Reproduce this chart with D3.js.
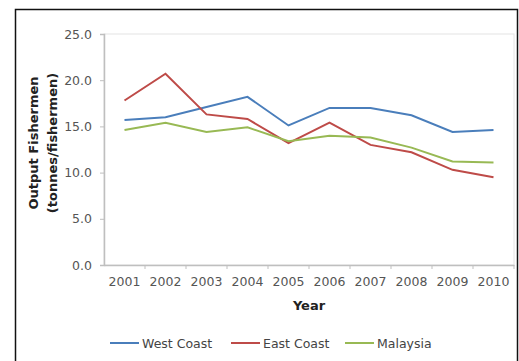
<!DOCTYPE html>
<html>
<head>
<meta charset="utf-8">
<script src="https://cdn.jsdelivr.net/npm/d3@7"></script>
<style>
  body { margin: 0; background: #fff; }
  svg { display: block; }
  text { font-family: Tahoma, "DejaVu Sans", Verdana, sans-serif; }
</style>
</head>
<body>
<script>
// chart values
var years = ["2001", "2002", "2003", "2004", "2005", "2006", "2007", "2008", "2009", "2010"];
var westCoast = [15.7, 16.0, 17.1, 18.2, 15.1, 17.0, 17.0, 16.2, 14.4, 14.6];
var eastCoast = [17.8, 20.7, 16.3, 15.8, 13.2, 15.4, 13.0, 12.2, 10.3, 9.5];
var malaysia = [14.6, 15.4, 14.4, 14.9, 13.4, 14.0, 13.8, 12.7, 11.2, 11.1];
var yTicks = [0, 5, 10, 15, 20, 25];
var seriesNames = ["West Coast", "East Coast", "Malaysia"];
var seriesColors = ["#4a7ebb", "#be4b48", "#98b954"];

var W = 519, H = 361;
var plot = { left: 104, right: 514, top: 34, bottom: 265 };

var svg = d3.select("body").append("svg").attr("width", W).attr("height", H);

// outer frame (bottom edge is cut off in the picture)
svg.append("path")
    .attr("d", "M15.5," + H + "V9.5H517.5V" + H)
    .attr("fill", "none")
    .attr("stroke", "#111")
    .attr("stroke-width", 1.5);

var x = d3.scaleBand().domain(years).range([plot.left, plot.right]);
var y = d3.scaleLinear().domain([0, 25]).range([plot.bottom, plot.top]);

// plot area border
svg.append("rect")
    .attr("x", plot.left).attr("y", plot.top)
    .attr("width", plot.right - plot.left).attr("height", plot.bottom - plot.top)
    .attr("fill", "none").attr("stroke", "#e4e4e4");

// y axis
var yAxis = svg.append("g")
    .attr("transform", "translate(" + plot.left + ",0)")
    .call(d3.axisLeft(y).tickValues(yTicks).tickFormat(d3.format(".1f")).tickSize(4).tickPadding(8));
yAxis.select(".domain").attr("stroke", "#bfbfbf").attr("stroke-width", 1.5);
yAxis.selectAll(".tick line").attr("stroke", "#bfbfbf");
yAxis.selectAll("text").attr("fill", "#555").attr("font-size", 12.5);

// x axis, ticks between categories
var xAxis = svg.append("g")
    .attr("transform", "translate(0," + plot.bottom + ")")
    .call(d3.axisBottom(x).tickSize(0).tickPadding(12));
xAxis.select(".domain").attr("stroke", "#bfbfbf").attr("stroke-width", 1.5);
xAxis.selectAll("text").attr("fill", "#555").attr("font-size", 12.5);
xAxis.selectAll(".sep").data(years).enter()
    .append("line").attr("class", "sep")
    .attr("x1", function (d) { return x(d) + x.bandwidth(); })
    .attr("x2", function (d) { return x(d) + x.bandwidth(); })
    .attr("y1", 0).attr("y2", 4)
    .attr("stroke", "#bfbfbf");

// axis titles
svg.append("text")
    .attr("x", (plot.left + plot.right) / 2).attr("y", 310)
    .attr("text-anchor", "middle").attr("font-size", 13).attr("font-weight", "bold").attr("fill", "#222")
    .text("Year");

var yt = svg.append("text")
    .attr("transform", "translate(38,143) rotate(-90)")
    .attr("text-anchor", "middle").attr("font-size", 13).attr("font-weight", "bold").attr("fill", "#222");
yt.append("tspan").attr("x", 0).attr("dy", 0).text("Output Fishermen");
yt.append("tspan").attr("x", 0).attr("dy", 19).text("(tonnes/fishermen)");

// lines
var allSeries = [westCoast, eastCoast, malaysia];
var line = d3.line()
    .x(function (d, i) { return x(years[i]) + x.bandwidth() / 2; })
    .y(function (d) { return y(d); });

svg.selectAll(".series").data(allSeries).enter()
    .append("path").attr("class", "series")
    .attr("d", line)
    .attr("fill", "none")
    .attr("stroke", function (d, i) { return seriesColors[i]; })
    .attr("stroke-width", 2);

// legend
var legendX = [110, 231, 345];
var lg = svg.selectAll(".legend").data(seriesNames).enter()
    .append("g").attr("class", "legend")
    .attr("transform", function (d, i) { return "translate(" + legendX[i] + ",343)"; });
lg.append("line").attr("x1", 0).attr("x2", 29).attr("y1", 0).attr("y2", 0)
    .attr("stroke", function (d, i) { return seriesColors[i]; }).attr("stroke-width", 2);
lg.append("text").attr("x", 32).attr("y", 4.5)
    .attr("font-size", 12.5).attr("fill", "#444")
    .text(function (d) { return d; });
</script>
</body>
</html>
